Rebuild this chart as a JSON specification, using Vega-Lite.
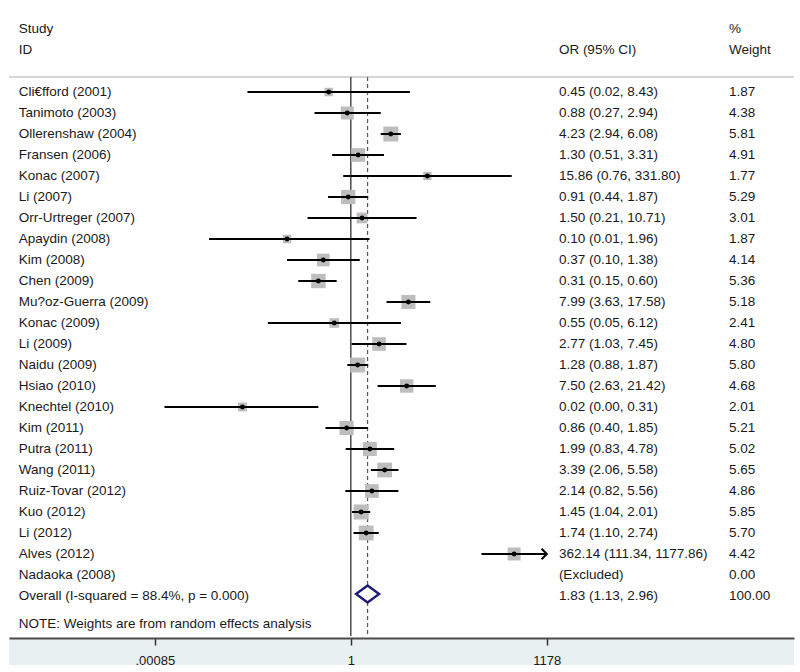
{
  "$schema": "https://vega.github.io/schema/vega-lite/v6.json",
  "padding": {"left": 8, "top": 10, "right": 7, "bottom": 9},
  "background": "white",
  "spacing": 0,
  "config": {"view": {"stroke": null}, "font": "Liberation Sans"},
  "resolve": {"scale": {"x": "independent"}},
  "datasets": {
    "rows": [
      {"label": "Study", "kind": "header", "ci": "", "wt": "%"},
      {"label": "ID", "kind": "header", "ci": "OR (95% CI)", "wt": "Weight"},
      {"label": "Cli€fford (2001)", "kind": "study", "or": 0.45, "lo": 0.024, "hi": 8.43, "ci": "0.45 (0.02, 8.43)", "w": 1.87, "wt": "1.87"},
      {"label": "Tanimoto (2003)", "kind": "study", "or": 0.88, "lo": 0.27, "hi": 2.94, "ci": "0.88 (0.27, 2.94)", "w": 4.38, "wt": "4.38"},
      {"label": "Ollerenshaw (2004)", "kind": "study", "or": 4.23, "lo": 2.94, "hi": 6.08, "ci": "4.23 (2.94, 6.08)", "w": 5.81, "wt": "5.81"},
      {"label": "Fransen (2006)", "kind": "study", "or": 1.30, "lo": 0.51, "hi": 3.31, "ci": "1.30 (0.51, 3.31)", "w": 4.91, "wt": "4.91"},
      {"label": "Konac (2007)", "kind": "study", "or": 15.86, "lo": 0.76, "hi": 331.80, "ci": "15.86 (0.76, 331.80)", "w": 1.77, "wt": "1.77"},
      {"label": "Li (2007)", "kind": "study", "or": 0.91, "lo": 0.44, "hi": 1.87, "ci": "0.91 (0.44, 1.87)", "w": 5.29, "wt": "5.29"},
      {"label": "Orr-Urtreger (2007)", "kind": "study", "or": 1.50, "lo": 0.21, "hi": 10.71, "ci": "1.50 (0.21, 10.71)", "w": 3.01, "wt": "3.01"},
      {"label": "Apaydin (2008)", "kind": "study", "or": 0.10, "lo": 0.006, "hi": 1.96, "ci": "0.10 (0.01, 1.96)", "w": 1.87, "wt": "1.87"},
      {"label": "Kim (2008)", "kind": "study", "or": 0.37, "lo": 0.10, "hi": 1.38, "ci": "0.37 (0.10, 1.38)", "w": 4.14, "wt": "4.14"},
      {"label": "Chen (2009)", "kind": "study", "or": 0.31, "lo": 0.15, "hi": 0.60, "ci": "0.31 (0.15, 0.60)", "w": 5.36, "wt": "5.36"},
      {"label": "Mu?oz-Guerra (2009)", "kind": "study", "or": 7.99, "lo": 3.63, "hi": 17.58, "ci": "7.99 (3.63, 17.58)", "w": 5.18, "wt": "5.18"},
      {"label": "Konac (2009)", "kind": "study", "or": 0.55, "lo": 0.05, "hi": 6.12, "ci": "0.55 (0.05, 6.12)", "w": 2.41, "wt": "2.41"},
      {"label": "Li (2009)", "kind": "study", "or": 2.77, "lo": 1.03, "hi": 7.45, "ci": "2.77 (1.03, 7.45)", "w": 4.80, "wt": "4.80"},
      {"label": "Naidu (2009)", "kind": "study", "or": 1.28, "lo": 0.88, "hi": 1.87, "ci": "1.28 (0.88, 1.87)", "w": 5.80, "wt": "5.80"},
      {"label": "Hsiao (2010)", "kind": "study", "or": 7.50, "lo": 2.63, "hi": 21.42, "ci": "7.50 (2.63, 21.42)", "w": 4.68, "wt": "4.68"},
      {"label": "Knechtel (2010)", "kind": "study", "or": 0.02, "lo": 0.0012, "hi": 0.31, "ci": "0.02 (0.00, 0.31)", "w": 2.01, "wt": "2.01"},
      {"label": "Kim (2011)", "kind": "study", "or": 0.86, "lo": 0.40, "hi": 1.85, "ci": "0.86 (0.40, 1.85)", "w": 5.21, "wt": "5.21"},
      {"label": "Putra (2011)", "kind": "study", "or": 1.99, "lo": 0.83, "hi": 4.78, "ci": "1.99 (0.83, 4.78)", "w": 5.02, "wt": "5.02"},
      {"label": "Wang (2011)", "kind": "study", "or": 3.39, "lo": 2.06, "hi": 5.58, "ci": "3.39 (2.06, 5.58)", "w": 5.65, "wt": "5.65"},
      {"label": "Ruiz-Tovar (2012)", "kind": "study", "or": 2.14, "lo": 0.82, "hi": 5.56, "ci": "2.14 (0.82, 5.56)", "w": 4.86, "wt": "4.86"},
      {"label": "Kuo (2012)", "kind": "study", "or": 1.45, "lo": 1.04, "hi": 2.01, "ci": "1.45 (1.04, 2.01)", "w": 5.85, "wt": "5.85"},
      {"label": "Li (2012)", "kind": "study", "or": 1.74, "lo": 1.10, "hi": 2.74, "ci": "1.74 (1.10, 2.74)", "w": 5.70, "wt": "5.70"},
      {"label": "Alves (2012)", "kind": "study", "or": 362.14, "lo": 111.34, "hi": 1177.86, "ci": "362.14 (111.34, 1177.86)", "w": 4.42, "wt": "4.42"},
      {"label": "Nadaoka (2008)", "kind": "study", "ci": "(Excluded)", "w": 0, "wt": "0.00"},
      {"label": "Overall  (I-squared = 88.4%, p = 0.000)", "kind": "overall", "or": 1.83, "lo": 1.13, "hi": 2.96, "ci": "1.83 (1.13, 2.96)", "w": 100, "wt": "100.00"}
    ]
  },
  "vconcat": [
    {
      "width": 785,
      "height": 626,
      "data": {"name": "rows"},
      "encoding": {
        "y": {
          "field": "label",
          "type": "nominal",
          "axis": null,
          "scale": {
            "type": "point",
            "padding": 0.905,
            "domain": ["Study", "ID", " ", "Cli€fford (2001)", "Tanimoto (2003)", "Ollerenshaw (2004)", "Fransen (2006)", "Konac (2007)", "Li (2007)", "Orr-Urtreger (2007)", "Apaydin (2008)", "Kim (2008)", "Chen (2009)", "Mu?oz-Guerra (2009)", "Konac (2009)", "Li (2009)", "Naidu (2009)", "Hsiao (2010)", "Knechtel (2010)", "Kim (2011)", "Putra (2011)", "Wang (2011)", "Ruiz-Tovar (2012)", "Kuo (2012)", "Li (2012)", "Alves (2012)", "Nadaoka (2008)", "Overall  (I-squared = 88.4%, p = 0.000)", "  "]
          }
        }
      },
      "layer": [
        {
          "data": {"values": [{}]},
          "mark": {"type": "rule", "color": "#c8c8c8", "strokeWidth": 1.5, "yOffset": 6},
          "encoding": {"y": {"datum": " ", "type": "nominal"}}
        },
        {
          "data": {"values": [{}]},
          "mark": {"type": "rule", "color": "#333333", "strokeWidth": 1.3, "yOffset": 6},
          "encoding": {
            "x": {"datum": 1, "type": "quantitative", "scale": {"type": "log", "domain": [4.4e-6, 8.8e6], "nice": false}, "axis": null},
            "y": {"datum": " ", "type": "nominal"},
            "y2": {"value": "height"}
          }
        },
        {
          "transform": [{"filter": "datum.kind == 'overall'"}],
          "mark": {"type": "rule", "color": "#a8323f", "strokeWidth": 1.2, "strokeDash": [4, 3], "yOffset": 6},
          "encoding": {
            "x": {"field": "or", "type": "quantitative"},
            "y": {"datum": " ", "type": "nominal"},
            "y2": {"value": "height"}
          }
        },
        {
          "transform": [{"filter": "datum.kind == 'study' && isValid(datum.lo)"}],
          "mark": {"type": "point", "shape": "square", "filled": true, "color": "#bdbdbd", "opacity": 1},
          "encoding": {
            "x": {"field": "or", "type": "quantitative"},
            "size": {"field": "w", "type": "quantitative", "scale": {"domain": [0, 6], "range": [0, 231], "zero": true}, "legend": null}
          }
        },
        {
          "transform": [{"filter": "datum.kind == 'study' && isValid(datum.lo)"}],
          "mark": {"type": "rule", "color": "#000000", "strokeWidth": 2},
          "encoding": {
            "x": {"field": "lo", "type": "quantitative"},
            "x2": {"field": "hi"}
          }
        },
        {
          "transform": [{"filter": "datum.kind == 'study' && isValid(datum.lo)"}],
          "mark": {"type": "circle", "color": "#000000", "size": 24, "opacity": 1},
          "encoding": {"x": {"field": "or", "type": "quantitative"}}
        },
        {
          "transform": [{"filter": "datum.kind == 'study' && datum.hi > 1000"}],
          "mark": {"type": "point", "shape": "M-1,-1L0,0L-1,1", "filled": false, "stroke": "#000000", "strokeWidth": 2, "size": 110, "opacity": 1},
          "encoding": {"x": {"field": "hi", "type": "quantitative"}}
        },
        {
          "transform": [{"filter": "datum.kind == 'overall'"}],
          "mark": {"type": "point", "shape": "M-1,0L0,-0.74L1,0L0,0.74Z", "filled": false, "fill": "white", "fillOpacity": 1, "stroke": "#1c1c74", "strokeWidth": 2.4, "size": 529, "opacity": 1, "yOffset": -2},
          "encoding": {"x": {"field": "or", "type": "quantitative"}}
        },
        {
          "mark": {"type": "text", "align": "left", "baseline": "middle", "fontSize": 13.5, "color": "#1a1a1a"},
          "encoding": {"x": {"datum": 6.25e-6, "type": "quantitative"}, "text": {"field": "label"}}
        },
        {
          "mark": {"type": "text", "align": "left", "baseline": "middle", "fontSize": 13.5, "color": "#1a1a1a"},
          "encoding": {"x": {"datum": 1820, "type": "quantitative"}, "text": {"field": "ci"}}
        },
        {
          "mark": {"type": "text", "align": "left", "baseline": "middle", "fontSize": 13.5, "color": "#1a1a1a"},
          "encoding": {"x": {"datum": 841000, "type": "quantitative"}, "text": {"field": "wt"}}
        },
        {
          "data": {"values": [{"note": "NOTE: Weights are from random effects analysis"}]},
          "mark": {"type": "text", "align": "left", "baseline": "middle", "fontSize": 13.5, "color": "#1a1a1a", "dy": 7},
          "encoding": {"x": {"datum": 6.25e-6, "type": "quantitative"}, "y": {"datum": "  ", "type": "nominal"}, "text": {"field": "note"}}
        }
      ]
    },
    {
      "width": 785,
      "height": 27,
      "view": {"fill": "#e9f0f1", "stroke": null},
      "data": {"values": [{"v": 1}]},
      "mark": {"type": "point", "opacity": 0},
      "encoding": {
        "x": {
          "field": "v",
          "type": "quantitative",
          "scale": {"type": "log", "domain": [4.4e-6, 8.8e6], "nice": false},
          "axis": {
            "values": [0.00085, 1, 1178],
            "orient": "bottom",
            "offset": -27,
            "title": null,
            "grid": false,
            "domain": true,
            "domainColor": "#4a4a4a",
            "domainWidth": 2,
            "ticks": true,
            "tickColor": "#333333",
            "tickWidth": 1.5,
            "tickSize": 7,
            "labelFontSize": 13,
            "labelColor": "#1a1a1a",
            "labelPadding": 9,
            "labelFont": "Liberation Sans",
            "labelExpr": "datum.value < 1 ? substring(toString(datum.value), 1) : toString(datum.value)"
          }
        }
      }
    }
  ]
}
